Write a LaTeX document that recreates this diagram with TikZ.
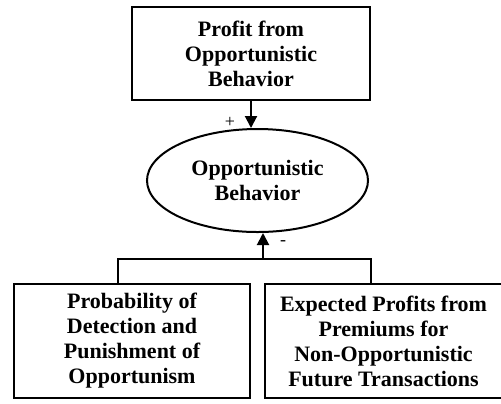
\documentclass[tikz,border=0pt]{standalone}
\usepackage{fontspec}
\setmainfont{Liberation Serif}
\usetikzlibrary{positioning,shapes.geometric,arrows.meta}
\begin{document}
\begin{tikzpicture}[x=0.5pt,y=-0.5pt,
  box/.style = {draw,line width=1pt,rectangle,align=center,inner sep=0pt,
    font=\fontsize{11}{12.5}\selectfont\bfseries},
  oval/.style = {draw,line width=1pt,ellipse,align=center,inner sep=0pt,
    font=\fontsize{11}{12.5}\selectfont\bfseries},
  arr/.style = {-{Triangle[width=6pt,length=6pt]},line width=1pt},
  sign/.style = {inner sep=0pt,font=\fontsize{9}{10}\selectfont}]
\useasboundingbox (0,0) rectangle (501,403);
\node[box,minimum width=119pt,minimum height=46.5pt] (profit) at (251,53.5) {Profit from\\Opportunistic\\Behavior};
\node[oval,minimum width=110.5pt,minimum height=51.5pt] (behav) [below=13.5pt of profit,xshift=3.25pt] {Opportunistic\\Behavior};
\node[box,minimum width=118pt,minimum height=57pt] (detect) at (132,341) {Probability of\\Detection and\\Punishment of\\Opportunism};
\node[box,minimum width=118.5pt,minimum height=57pt] (premium) [right=6.5pt of detect] {Expected Profits from\\Premiums for\\Non-Opportunistic\\Future Transactions};
\coordinate (join) at (263,259);
\draw[arr] (profit.south) -- (profit.south |- behav.north);
\draw[line width=1pt] ([xshift=-7pt]detect.north) |- (join) -| ([xshift=-6.25pt]premium.north);
\draw[arr] (join) -- (join |- behav.south);
\node[sign] (plus) at (230,122) {+};
\node[sign] (minus) at (283,243) {-};
\end{tikzpicture}
\end{document}
